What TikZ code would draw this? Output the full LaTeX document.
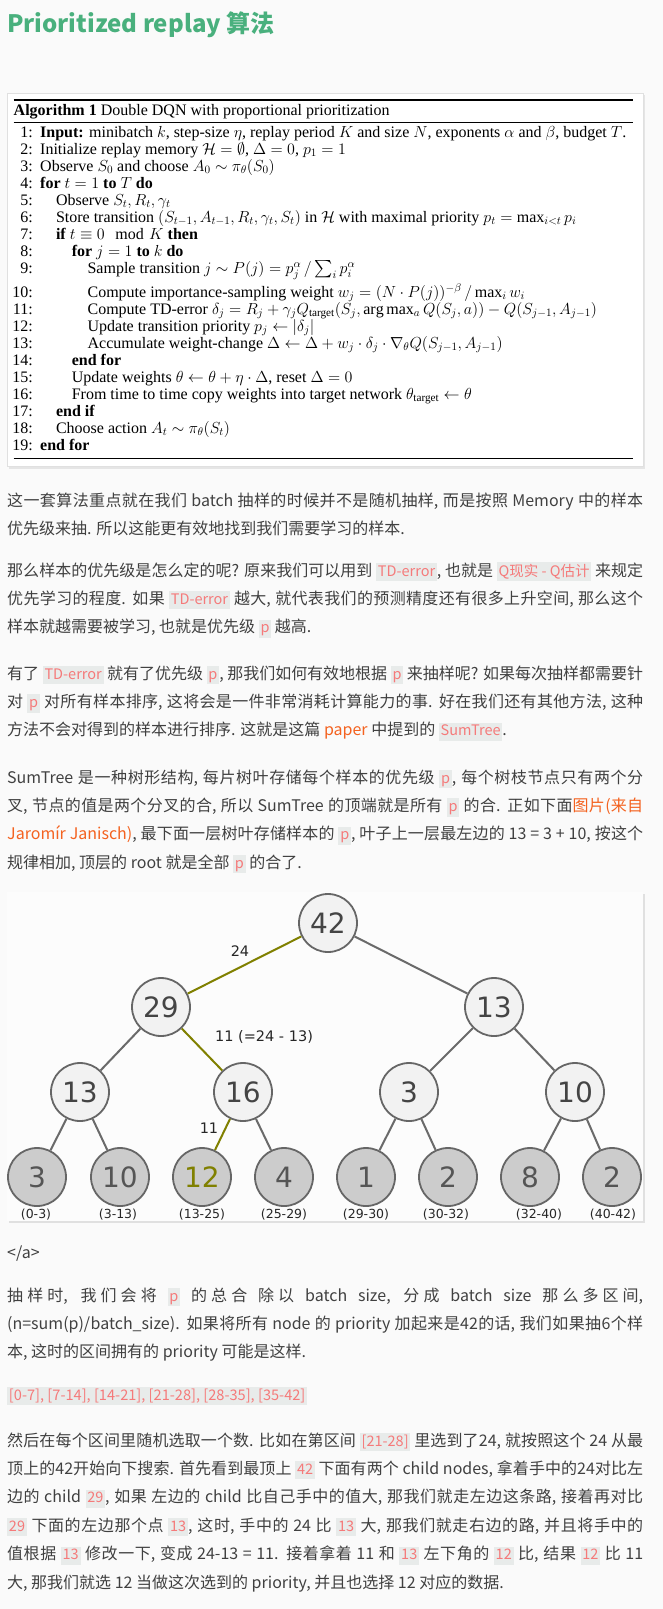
\RequirePackage{fix-cm}
\documentclass[tikz,border=0pt]{standalone}
\usepackage{amsmath}
\usepackage{fontspec}
\setmainfont{Liberation Serif}
\newfontfamily\cjk{Noto Sans CJK SC}
\newfontfamily\dvs{DejaVu Sans}
\XeTeXlinebreaklocale "zh"
\XeTeXlinebreakskip=0pt plus 1pt minus 0.3pt
\definecolor{pagebg}{HTML}{FAFAFA}
\definecolor{titlec}{HTML}{49B07D}
\definecolor{textc}{HTML}{404040}
\definecolor{codebg}{HTML}{E8EBEA}
\definecolor{codefg}{HTML}{F57A7A}
\definecolor{linkc}{HTML}{F4621F}
\definecolor{nodeb}{HTML}{666666}
\definecolor{innf}{HTML}{F2F2F2}
\definecolor{leaff}{HTML}{CCCCCC}
\definecolor{edgec}{HTML}{6A6A6A}
\definecolor{hotc}{HTML}{808000}
\definecolor{numc}{HTML}{444444}
\definecolor{leafnum}{HTML}{555555}
\newcommand{\cd}[1]{{\setlength{\fboxsep}{1.8pt}\colorbox{codebg}{\fontsize{14.5}{14.5}\selectfont\color{codefg}\rule[-3.2pt]{0pt}{14.5pt}#1}}}
\newcommand{\cdsm}[1]{{\setlength{\fboxsep}{1.8pt}\colorbox{codebg}{\cjk\fontsize{14.6}{14.6}\selectfont\color{codefg}\rule[-3.2pt]{0pt}{14.3pt}#1}}}
\newcommand{\lk}[1]{\textcolor{linkc}{#1}}
\tikzset{
  para/.style={anchor=base west, inner sep=0, text width=636pt, align=justify, text=textc,
    font={\cjk\fontsize{16}{28.4}\selectfont\tolerance=10000\emergencystretch=20pt}},
  num/.style={anchor=base east, inner sep=0, font=\fontsize{16}{17}\selectfont},
  alg/.style={anchor=base west, inner sep=0, font=\fontsize{16}{17}\selectfont},
  inn/.style={circle, draw=nodeb, line width=1.8pt, fill=innf, minimum size=58pt, inner sep=0,
    font=\dvs\fontsize{28}{28}\selectfont, text=numc},
  leaf/.style={inn, fill=leaff, text=leafnum},
  edge/.style={draw=edgec, line width=2pt},
  hot/.style={draw=hotc, line width=2pt},
  elab/.style={inner sep=0, font=\dvs\fontsize{14.5}{14.5}\selectfont, text=black!85},
  rng/.style={inner sep=0, font=\dvs\fontsize{12.5}{12.5}\selectfont, text=black!85}
}
\begin{document}
\begin{tikzpicture}[x=1pt,y=-1pt]
\fill[pagebg] (0,0) rectangle (663,1609);
\useasboundingbox (0,0) rectangle (663,1609);

% title
\node[anchor=base west, inner sep=0, font=\cjk\bfseries\fontsize{24}{24}\selectfont, text=titlec] (title) at (7,32) {Prioritized replay 算法};

% algorithm box
\fill[black!10] (8.5,94.5) rectangle (645,468.5);
\fill[white, draw=black!12] (7,93) rectangle (643,466);
\draw[line width=1.6pt] (13.5,100) -- (633,100);
\draw[line width=0.6pt] (13.5,122) -- (633,122);
\draw[line width=0.6pt] (13.5,458) -- (633,458);
\node[alg] (cap) at (13.5,115.5) {\textbf{Algorithm 1} Double DQN with proportional prioritization};

\node[num] (n1) at (33,137) {1:};
\node[alg] (l1) at (40,137) {\textbf{Input:} minibatch $k$, step-size $\eta$, replay period $K$ and size $N$, exponents $\alpha$ and $\beta$, budget $T$.};
\node[num] (n2) at (33,154) {2:};
\node[alg] (l2) at (40,154) {Initialize replay memory $\mathcal{H}=\emptyset$, $\Delta=0$, $p_1=1$};
\node[num] (n3) at (33,171) {3:};
\node[alg] (l3) at (40,171) {Observe $S_0$ and choose $A_0\sim\pi_\theta(S_0)$};
\node[num] (n4) at (33,188) {4:};
\node[alg] (l4) at (40,188) {\textbf{for} $t=1$ \textbf{to} $T$ \textbf{do}};
\node[num] (n5) at (33,205) {5:};
\node[alg] (l5) at (55.8,205) {Observe $S_t,R_t,\gamma_t$};
\node[num] (n6) at (33,222) {6:};
\node[alg] (l6) at (55.8,222) {Store transition $(S_{t-1},A_{t-1},R_t,\gamma_t,S_t)$ in $\mathcal{H}$ with maximal priority $p_t=\max_{i<t}p_i$};
\node[num] (n7) at (33,239) {7:};
\node[alg] (l7) at (55.8,239) {\textbf{if} $t\equiv 0 \mod{K}$ \textbf{then}};
\node[num] (n8) at (33,256) {8:};
\node[alg] (l8) at (71.6,256) {\textbf{for} $j=1$ \textbf{to} $k$ \textbf{do}};
\node[num] (n9) at (33,273) {9:};
\node[alg] (l9) at (87.4,273) {Sample transition $j\sim P(j)=p_j^\alpha\,/\sum_i p_i^\alpha$};
\node[num] (n10) at (33,297) {10:};
\node[alg] (l10) at (87.4,297) {Compute importance-sampling weight $w_j=(N\cdot P(j))^{-\beta}\,/\max_i w_i$};
\node[num] (n11) at (33,314) {11:};
\node[alg] (l11) at (87.4,314) {Compute TD-error $\delta_j=R_j+\gamma_j Q_{\text{target}}(S_j,\arg\max_a Q(S_j,a))-Q(S_{j-1},A_{j-1})$};
\node[num] (n12) at (33,331) {12:};
\node[alg] (l12) at (87.4,331) {Update transition priority $p_j\leftarrow|\delta_j|$};
\node[num] (n13) at (33,348) {13:};
\node[alg] (l13) at (87.4,348) {Accumulate weight-change $\Delta\leftarrow\Delta+w_j\cdot\delta_j\cdot\nabla_\theta Q(S_{j-1},A_{j-1})$};
\node[num] (n14) at (33,365) {14:};
\node[alg] (l14) at (71.6,365) {\textbf{end for}};
\node[num] (n15) at (33,382) {15:};
\node[alg] (l15) at (71.6,382) {Update weights $\theta\leftarrow\theta+\eta\cdot\Delta$, reset $\Delta=0$};
\node[num] (n16) at (33,399) {16:};
\node[alg] (l16) at (71.6,399) {From time to time copy weights into target network $\theta_{\text{target}}\leftarrow\theta$};
\node[num] (n17) at (33,416) {17:};
\node[alg] (l17) at (55.8,416) {\textbf{end if}};
\node[num] (n18) at (33,433) {18:};
\node[alg] (l18) at (55.8,433) {Choose action $A_t\sim\pi_\theta(S_t)$};
\node[num] (n19) at (33,450) {19:};
\node[alg] (l19) at (40,450) {\textbf{end for}};

% paragraphs
\node[para] (p1) at (7,506) {这一套算法重点就在我们 batch 抽样的时候并不是随机抽样, 而是按照 Memory 中的样本\linebreak 优先级来抽. 所以这能更有效地找到我们需要学习的样本.};

\node[para] (p2) at (7,576) {那么样本的优先级是怎么定的呢? 原来我们可以用到 \cd{TD-error}, 也就是 \cd{Q现实 - Q估计} 来规定\linebreak 优先学习的程度. 如果 \cd{TD-error} 越大, 就代表我们的预测精度还有很多上升空间, 那么这个\linebreak 样本就越需要被学习, 也就是优先级 \cd{p} 越高.};

\node[para] (p3) at (7,679) {有了 \cd{TD-error} 就有了优先级 \cd{p}, 那我们如何有效地根据 \cd{p} 来抽样呢? 如果每次抽样都需要针\linebreak 对 \cd{p} 对所有样本排序, 这将会是一件非常消耗计算能力的事. 好在我们还有其他方法, 这种\linebreak 方法不会对得到的样本进行排序. 这就是这篇 \lk{paper} 中提到的 \cd{SumTree}.};

\node[para] (p4) at (7,783) {SumTree 是一种树形结构, 每片树叶存储每个样本的优先级 \cd{p}, 每个树枝节点只有两个分\linebreak 叉, 节点的值是两个分叉的合, 所以 SumTree 的顶端就是所有 \cd{p} 的合. 正如下面\lk{图片(来自}\linebreak\lk{Jaromír Janisch)}, 最下面一层树叶存储样本的 \cd{p}, 叶子上一层最左边的 13 = 3 + 10, 按这个\linebreak 规律相加, 顶层的 root 就是全部 \cd{p} 的合了.};

% tree figure
\fill[black!12] (8.5,893.5) rectangle (645,1223);
\fill[pagebg!60!white] (7,892) rectangle (643,1221);

\node[inn] (r) at (328,923) {42};
\node[inn] (a) at (161,1007) {29};
\node[inn] (b) at (494,1007) {13};
\node[inn] (c) at (80,1092) {13};
\node[inn] (d) at (243,1092) {16};
\node[inn] (e) at (409,1092) {3};
\node[inn] (f) at (575,1092) {10};
\node[leaf] (g1) at (37,1177) {3};
\node[leaf] (g2) at (120,1177) {10};
\node[leaf, text=hotc] (g3) at (202,1177) {12};
\node[leaf] (g4) at (284,1177) {4};
\node[leaf] (g5) at (366,1177) {1};
\node[leaf] (g6) at (448,1177) {2};
\node[leaf] (g7) at (530,1177) {8};
\node[leaf] (g8) at (612,1177) {2};

\draw[hot] (r) -- (a);
\draw[edge] (r) -- (b);
\draw[edge] (a) -- (c);
\draw[hot] (a) -- (d);
\draw[edge] (b) -- (e);
\draw[edge] (b) -- (f);
\draw[edge] (c) -- (g1);
\draw[edge] (c) -- (g2);
\draw[hot] (d) -- (g3);
\draw[edge] (d) -- (g4);
\draw[edge] (e) -- (g5);
\draw[edge] (e) -- (g6);
\draw[edge] (f) -- (g7);
\draw[edge] (f) -- (g8);

\node[elab] (t24) at (240,951) {24};
\node[elab] (t11a) at (264,1037) {11 (=24 - 13)};
\node[elab] (t11b) at (209,1128) {11};

\node[rng] (q1) at (36,1215) {(0-3)};
\node[rng] (q2) at (118,1215) {(3-13)};
\node[rng] (q3) at (202,1215) {(13-25)};
\node[rng] (q4) at (284,1215) {(25-29)};
\node[rng] (q5) at (366,1215) {(29-30)};
\node[rng] (q6) at (446,1215) {(30-32)};
\node[rng] (q7) at (539,1215) {(32-40)};
\node[rng] (q8) at (613,1215) {(40-42)};

% after figure
\node[anchor=base west, inner sep=0, font=\cjk\fontsize{16}{16}\selectfont, text=textc] (ca) at (7,1258) {</a>};

\node[para] (p5) at (7,1301) {抽样时, 我们会将 \cd{p} 的总合 除以 batch size, 分成 batch size 那么多区间,\linebreak (n=sum(p)/batch\_size). 如果将所有 node 的 priority 加起来是42的话, 我们如果抽6个样\linebreak 本, 这时的区间拥有的 priority 可能是这样.};

\node[anchor=base west, inner sep=0] (iv) at (7,1400) {\cdsm{[0-7], [7-14], [14-21], [21-28], [28-35], [35-42]}};

\node[para] (p6) at (7,1446) {然后在每个区间里随机选取一个数. 比如在第区间 \cd{[21-28]} 里选到了24, 就按照这个 24 从最\linebreak 顶上的42开始向下搜索. 首先看到最顶上 \cd{42} 下面有两个 child nodes, 拿着手中的24对比左\linebreak 边的 child \cd{29}, 如果 左边的 child 比自己手中的值大, 那我们就走左边这条路, 接着再对比\linebreak \cd{29} 下面的左边那个点 \cd{13}, 这时, 手中的 24 比 \cd{13} 大, 那我们就走右边的路, 并且将手中的\linebreak 值根据 \cd{13} 修改一下, 变成 24-13 = 11. 接着拿着 11 和 \cd{13} 左下角的 \cd{12} 比, 结果 \cd{12} 比 11\linebreak 大, 那我们就选 12 当做这次选到的 priority, 并且也选择 12 对应的数据.};
\end{tikzpicture}
\end{document}
